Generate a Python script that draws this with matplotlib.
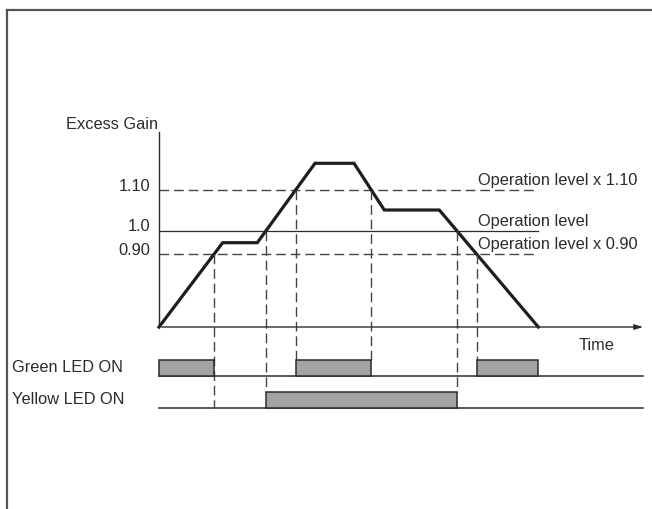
import numpy as np
from matplotlib import pyplot as plt

# schematic curve (time, gain height) -- not to scale, like the original drawing
time_pts = [0, 63.7, 98.3, 156, 195, 225.3, 280.3, 379.3]
gain_pts = [0, 84.3, 84.3, 163.7, 163.7, 117, 117, 0]

level_ticks = ['1.10', '1.0', '0.90']
level_names = ['Operation level x 1.10', 'Operation level', 'Operation level x 0.90']
level_heights = [137, 96.3, 73]
level_styles = ['dashed', 'solid', 'dashed']

row_names = ['Green LED ON', 'Yellow LED ON']

INK = '#2b2b2b'
DASH = '#444444'
FONT = 'Liberation Sans'


def crossings(level):
    out = []
    for i in range(len(time_pts) - 1):
        h0, h1 = gain_pts[i], gain_pts[i + 1]
        if (h0 - level) * (h1 - level) < 0:
            out.append(time_pts[i] + (level - h0) * (time_pts[i + 1] - time_pts[i]) / (h1 - h0))
    return out


c110 = crossings(level_heights[0])
c100 = crossings(level_heights[1])
c090 = crossings(level_heights[2])

green_spans = [(0, c090[0]), (c110[0], c110[1]), (c090[1], time_pts[-1])]
yellow_spans = [(c100[0], c100[1])]

fig = plt.figure(figsize=(6.52, 5.09), dpi=100)
ax = fig.add_axes([0, 0, 1, 1])
ax.set_xlim(-159, 652 - 159)
ax.set_ylim(327 - 509, 327)
ax.axis('off')

# frame (top + left only)
ax.plot([-152, 500], [317, 317], color='#555555', lw=1.6, clip_on=False)
ax.plot([-152, -152], [317, -190], color='#555555', lw=1.6, clip_on=False)

# axes
ax.plot([0, 0], [0, 195], color=INK, lw=1.0)
ax.annotate('', xy=(487, 0), xytext=(0, 0),
            arrowprops=dict(arrowstyle='-|>,head_length=0.5,head_width=0.15', color=INK, lw=1.0))
ax.text(-92.5, 203, 'Excess Gain', fontsize=11.8, family=FONT, color=INK, va='center', ha='left')
ax.text(438, -19, 'Time', fontsize=11.8, family=FONT, color=INK, va='center', ha='center')

# levels
for tick, name, h, ls in zip(level_ticks, level_names, level_heights, level_styles):
    if ls == 'dashed':
        ax.plot([0, time_pts[-1]], [h, h], color=DASH, lw=1.0, dashes=(7, 3.5))
    else:
        ax.plot([0, time_pts[-1]], [h, h], color=INK, lw=0.9)
    ax.text(-9, h + 4, tick, fontsize=11.8, family=FONT, color=INK, ha='right', va='center')
    ax.text(318.7, h + 9.5, name, fontsize=11.8, family=FONT, color=INK, ha='left', va='center')

ax.plot(time_pts, gain_pts, color='#1e1e1e', lw=2.3, solid_joinstyle='miter')

# LED rows
green_base, green_top = -49, -33
yellow_base, yellow_top = -81, -65
for name, base in zip(row_names, [green_base, yellow_base]):
    ax.text(-146.5, base + 8.5, name, fontsize=11.8, family=FONT, color=INK, ha='left', va='center')
    ax.plot([0, 484], [base, base], color=INK, lw=1.1)

for spans, base, top in [(green_spans, green_base, green_top), (yellow_spans, yellow_base, yellow_top)]:
    for a, b in spans:
        ax.fill([a, b, b, a], [base, base, top, top], facecolor='#a3a3a3',
                edgecolor=INK, lw=1.1, zorder=3)

# vertical drop lines from the crossings
drops = [(c090[0], level_heights[2], yellow_base),
         (c100[0], level_heights[1], yellow_top),
         (c110[0], level_heights[0], green_top),
         (c110[1], level_heights[0], green_top),
         (c100[1], level_heights[1], yellow_top),
         (c090[1], level_heights[2], green_top)]
for x, h0, h1 in drops:
    ax.plot([x, x], [h0, h1], color=DASH, lw=1.0, dashes=(7, 3.5))

fig.savefig('out.png', dpi=100)
